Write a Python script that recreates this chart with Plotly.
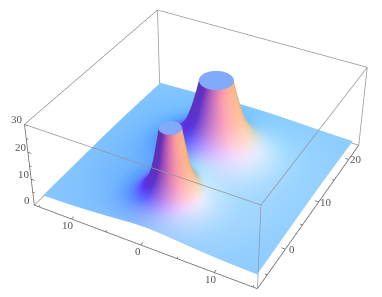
import numpy as np
import plotly.graph_objects as go

# Values.
# NOTE: the surface is continuous, so it is rebuilt by revolving these read-off
# radial profiles around the two peak centres (interpolated between read values).
x_tick_vals = [-10, 0, 10]
x_tick_text = ["10", "0", "10"]
y_tick_vals = [0, 10, 20]
y_tick_text = ["0", "10", "20"]
z_tick_vals = [0, 10, 20, 30]
z_tick_text = ["0", "10", "20", "30"]
x_minor = [-15, -5, 5, 15]
y_minor = [-5, 5, 15]
z_minor = [5, 15, 25]

small_center = [0.0, 0.0]
big_center = [0.0, 11.7]
small_r = [0.1, 1.25, 1.9, 2.8, 4.0, 6.0, 10.0, 16.0, 40.0]
small_z = [347., 30., 20., 10., 5.0, 2.5, 1.0, 0.3, 0.05]
big_r = [0.1, 2.05, 3.0, 4.5, 6.5, 9.0, 14.0, 20.0, 50.0]
big_z = [964., 30., 20., 10., 5.0, 2.5, 1.0, 0.3, 0.05]
base_level = 1.5

X_RANGE = [-15.6, 15.6]
Y_RANGE = [-7.6, 23.6]
Z_RANGE = [0, 30]
S_X = [-15.1, 14.9]
S_Y = [-6.3, 23.0]
CAP = 30.0
EYE = np.array([1.3, -2.4, 2.0]) * 1.27
FIG = 877
CENTER_PX = (202, 135)
BOX_Z = 0.4
AMBIENT = np.array([0.38, 0.22, 0.45])
LIGHTS = [((1.7, -0.5, 1.8), (0.72, 0, 0)), ((1.5, 1.5, 2), (0, 0.8, 0)), ((-0.3, 1.5, 1.5), (0, 0, 0.75))]
BASE = np.array([0.95, 0.9, 1.0])
CAP_RGB = "rgb(130,170,250)"
PAD = 0.05

sx = 1 / (X_RANGE[1] - X_RANGE[0])
sy = 1 / (Y_RANGE[1] - Y_RANGE[0])
sz = BOX_Z / (Z_RANGE[1] - Z_RANGE[0])

def smooth_table(r_tab, z_tab):
    lr = np.linspace(np.log(r_tab[0]), np.log(r_tab[-1]), 1000)
    lz = np.interp(lr, np.log(r_tab), np.log(z_tab))
    w = 41
    k = np.ones(w) / w
    for _ in range(2):
        lz = np.convolve(np.pad(lz, w // 2, mode="edge"), k, "valid")
    return lr, lz

TAB_S = smooth_table(small_r, small_z)
TAB_B = smooth_table(big_r, big_z)

def surface(x, y):
    out = base_level
    for c, tab in ((small_center, TAB_S), (big_center, TAB_B)):
        r = np.hypot(x - c[0], y - c[1]).clip(0.1)
        out = out + np.exp(np.interp(np.log(r), tab[0], tab[1]))
    return out

f = -EYE / np.linalg.norm(EYE)
right = np.cross(f, [0, 0, 1.0]); right /= np.linalg.norm(right)
up = np.cross(right, f)
back = -f

def shade(x, y):
    h = 0.03
    dzdx = (surface(x + h, y) - surface(x - h, y)) / (2 * h)
    dzdy = (surface(x, y + h) - surface(x, y - h)) / (2 * h)
    nx, ny, nz = -dzdx * sz / sx, -dzdy * sz / sy, np.ones_like(x)
    nl = np.sqrt(nx**2 + ny**2 + nz**2)
    nx, ny, nz = nx / nl, ny / nl, nz / nl
    vn = [nx * v[0] + ny * v[1] + nz * v[2] for v in (right, up, back)]
    col = np.stack([np.full_like(x, AMBIENT[i]) for i in range(3)], -1)
    for d, c in LIGHTS:
        d = np.array(d, float); d /= np.linalg.norm(d)
        dot = np.maximum(0, vn[0] * d[0] + vn[1] * d[1] + vn[2] * d[2])
        col += dot[..., None] * np.array(c)
    col = (np.clip(col * BASE, 0, 1) * 255).round().astype(int).reshape(-1, 3)
    return ["rgb(%d,%d,%d)" % tuple(c) for c in col]

flat = dict(ambient=1, diffuse=0, specular=0, roughness=1, fresnel=0)
fig = go.Figure()

# Outer sheet on a rectangular grid, with the discs around the peaks left out
RING_R = {0: 4.5, 1: 6.0}
N = 151
xs = np.linspace(S_X[0], S_X[1], N)
ys = np.linspace(S_Y[0], S_Y[1], N)
gx, gy = np.meshgrid(xs, ys)
z = surface(gx, gy)
idx = np.arange(N * N).reshape(N, N)
a, b, c_, d_ = idx[:-1, :-1].ravel(), idx[:-1, 1:].ravel(), idx[1:, 1:].ravel(), idx[1:, :-1].ravel()
I = np.r_[a, a]; J = np.r_[b, c_]; K = np.r_[c_, d_]
hole = np.zeros(N * N, bool)
for n, c in enumerate((small_center, big_center)):
    hole |= (np.hypot(gx - c[0], gy - c[1]) < RING_R[n] - 0.35).ravel()
keep = ~(hole[I] & hole[J] & hole[K])
fig.add_trace(go.Mesh3d(x=gx.ravel(), y=gy.ravel(), z=z.ravel(), i=I[keep], j=J[keep], k=K[keep],
                        vertexcolor=shade(gx, gy), lighting=flat, hoverinfo="skip", showscale=False))

# Fine polar sheet and flat clipped top for each peak
NT, NR = 240, 70
theta = np.linspace(0, 2 * np.pi, NT, endpoint=False)
for n, c in enumerate((small_center, big_center)):
    lo, hi = np.full(NT, 0.2), np.full(NT, RING_R[n])
    for _ in range(40):
        mid = (lo + hi) / 2
        above = surface(c[0] + mid * np.cos(theta), c[1] + mid * np.sin(theta)) >= CAP
        lo = np.where(above, mid, lo)
        hi = np.where(above, hi, mid)
    rim = (lo + hi) / 2
    s = np.linspace(0, 1, NR) ** 1.6
    rr = rim[None, :] + (RING_R[n] - rim)[None, :] * s[:, None]
    px = c[0] + rr * np.cos(theta)
    py = c[1] + rr * np.sin(theta)
    pz = surface(px, py)
    pz[0] = CAP
    ids = np.arange(NR * NT).reshape(NR, NT)
    a = ids[:-1, :].ravel(); b = ids[:-1, np.r_[1:NT, 0]].ravel()
    d = ids[1:, :].ravel(); e = ids[1:, np.r_[1:NT, 0]].ravel()
    fig.add_trace(go.Mesh3d(x=px.ravel(), y=py.ravel(), z=pz.ravel(), i=np.r_[a, a], j=np.r_[b, e], k=np.r_[e, d],
                            vertexcolor=shade(px, py), lighting=flat, hoverinfo="skip", showscale=False))
    cx_all = np.r_[c[0], px[0]]
    cy_all = np.r_[c[1], py[0]]
    fig.add_trace(go.Mesh3d(x=cx_all, y=cy_all, z=np.full(NT + 1, CAP),
                            i=np.zeros(NT, int), j=np.arange(1, NT + 1), k=np.r_[2:NT + 1, 1],
                            color=CAP_RGB, lighting=flat, hoverinfo="skip", showscale=False))

x0, x1 = X_RANGE; y0, y1 = Y_RANGE; z0, z1 = Z_RANGE
LIGHT_EDGE = "rgb(150,150,150)"
DARK_EDGE = "rgb(100,100,100)"
def seg(p, q, color, w=1.5):
    fig.add_trace(go.Scatter3d(x=[p[0], q[0]], y=[p[1], q[1]], z=[p[2], q[2]], mode="lines",
                               line=dict(color=color, width=w), hoverinfo="skip", showlegend=False))
for p, q in [((x0,y1,z0),(x0,y1,z1)), ((x1,y1,z0),(x1,y1,z1)), ((x1,y0,z0),(x1,y0,z1)),
             ((x0,y0,z1),(x1,y0,z1)), ((x1,y0,z1),(x1,y1,z1)), ((x1,y1,z1),(x0,y1,z1)), ((x0,y1,z1),(x0,y0,z1)),
             ((x0,y1,z0),(x1,y1,z0)), ((x0,y1,z0),(x0,y0,z0)), ((x1,y1,z0),(x1,y0,z0))]:
    seg(p, q, LIGHT_EDGE)
seg((x0,y0,z0),(x1,y0,z0), DARK_EDGE)
seg((x1,y0,z0),(x1,y1,z0), DARK_EDGE)
seg((x0,y0,z0),(x0,y0,z1), DARK_EDGE)

for v in x_tick_vals + x_minor:
    L = 0.5 if v in x_tick_vals else 0.3
    seg((v,y0,z0),(v,y0+L,z0), DARK_EDGE)
for v in y_tick_vals + y_minor:
    L = 0.5 if v in y_tick_vals else 0.3
    seg((x1,v,z0),(x1-L,v,z0), DARK_EDGE)
for v in z_tick_vals + z_minor:
    L = 0.5 if v in z_tick_vals else 0.3
    seg((x0,y0,v),(x0+L,y0,v), DARK_EDGE)

font = dict(family="Liberation Serif", size=11, color="rgb(85,85,85)")
annotations = []
for v, t in zip(x_tick_vals, x_tick_text):
    annotations.append(dict(x=v, y=y0, z=z0, text=t, showarrow=False, font=font, xshift=-3, yshift=-6))
for v, t in zip(y_tick_vals, y_tick_text):
    annotations.append(dict(x=x1, y=v, z=z0, text=t, showarrow=False, font=font, xshift=7, yshift=0))
for v, t in zip(z_tick_vals, z_tick_text):
    annotations.append(dict(x=x0, y=y0, z=v, text=t, showarrow=False, font=font, xshift=-7, yshift=5))

hidden = dict(visible=False, showgrid=False, zeroline=False, showticklabels=False, showbackground=False)
fig.update_layout(
    width=FIG, height=FIG, margin=dict(l=0, r=0, t=0, b=0), paper_bgcolor="white", showlegend=False,
    scene=dict(
        domain=dict(x=[0, 1], y=[0, 1]),
        xaxis=dict(range=[x0 - PAD, x1 + PAD], **hidden),
        yaxis=dict(range=[y0 - PAD, y1 + PAD], **hidden),
        zaxis=dict(range=[z0 - PAD, z1 + PAD], **hidden),
        aspectmode="manual", aspectratio=dict(x=1, y=1, z=BOX_Z),
        camera=dict(eye=dict(x=EYE[0], y=EYE[1], z=EYE[2]), center=dict(x=0, y=0, z=0), up=dict(x=0, y=0, z=1),
                    projection=dict(type="perspective")),
        annotations=annotations,
    ),
)
post = ("document.documentElement.style.overflow='hidden';document.body.style.overflow='hidden';"
        "document.body.style.margin='0';var g=document.getElementsByClassName('plotly-graph-div')[0];"
        "g.style.position='absolute';g.style.left='%dpx';g.style.top='%dpx';"
        % (CENTER_PX[0] - FIG // 2, CENTER_PX[1] - FIG // 2))
fig.write_html("out.html", post_script=post)
